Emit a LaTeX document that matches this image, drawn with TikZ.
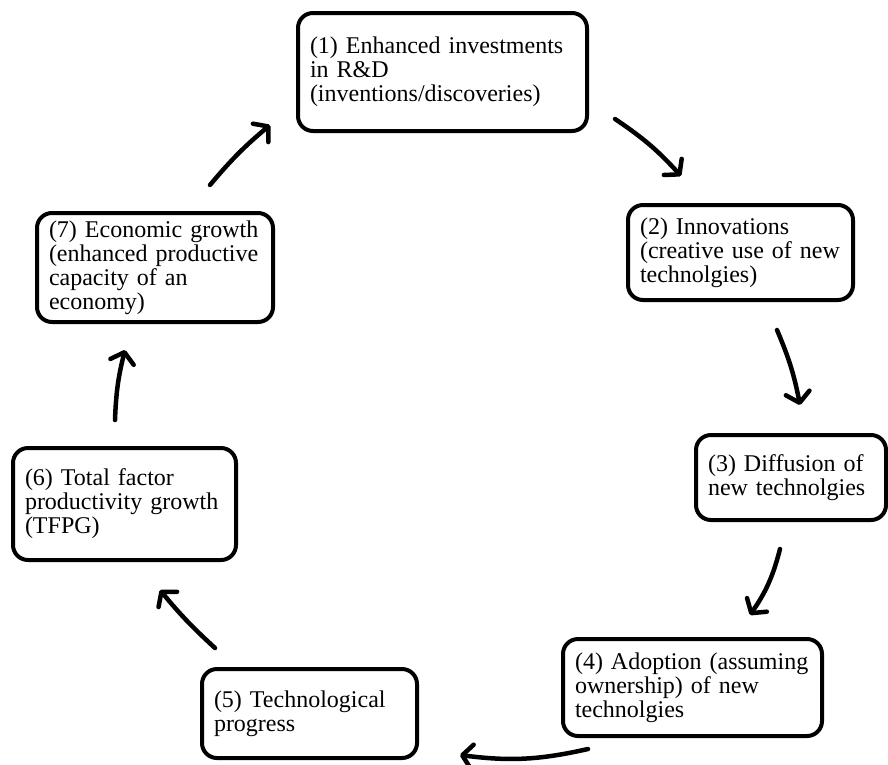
\documentclass[tikz,border=0pt]{standalone}
\usepackage{fontspec}
\setmainfont{Liberation Serif}
\usetikzlibrary{arrows.meta}

\begin{document}
\begin{tikzpicture}[
    x=1pt, y=-1pt,
    stage/.style={draw, line width=4pt, rounded corners=15pt, align=left, inner xsep=12pt, inner ysep=0pt,
        font=\fontsize{24}{24}\selectfont},
    arr/.style={-{Straight Barb[round, length=10pt, width=24pt]}, line width=4.5pt, line cap=round}
]
\useasboundingbox (0,0) rectangle (888,764);

\node[stage, text width=265pt, minimum height=118pt] (invest) at (442.5,72)
{(1) Enhanced investments\\in R\&D\\(inventions/discoveries)};
\node[stage, text width=201pt, minimum height=95pt] (innov) at (740.5,252.5)
{(2) Innovations\\(creative use of new\\technolgies)};
\node[stage, text width=166pt, minimum height=85pt] (diffusion) at (791,477.5)
{(3) Diffusion of\\new technolgies};
\node[stage, text width=235pt, minimum height=97pt] (adoption) at (692.5,687.5)
{(4) Adoption (assuming\\ownership) of new\\technolgies};
\node[stage, text width=191pt, minimum height=89pt] (progress) at (309.5,713.5)
{(5) Technological\\progress};
\node[stage, text width=199pt, minimum height=112pt] (tfpg) at (124.5,504)
{(6) Total factor\\productivity growth\\(TFPG)};
\node[stage, text width=212pt, minimum height=109pt] (growth) at (155,267.5)
{(7) Economic growth\\(enhanced productive\\capacity of an\\economy)};

\draw[arr] ([shift={(26,-14)}]invest.south east) to[bend left=7] ([shift={(55,-27)}]innov.north west);
\draw[arr] ([shift={(36.5,28)}]innov.south) to[bend left=6] ([shift={(9,-28)}]diffusion.north);
\draw[arr] ([shift={(-11,27)}]diffusion.south) to[bend left=10] ([shift={(57.5,-22)}]adoption.north);
\draw[arr] ([shift={(27,11)}]adoption.south west) to[bend left=10] ([shift={(41,-5)}]progress.south east);
\draw[arr] ([shift={(15,-19)}]progress.north west) to[bend left=4] ([shift={(35.5,28)}]tfpg.south);
\draw[arr] ([shift={(-9.5,-26)}]tfpg.north) to[bend left=6] ([shift={(-30,26)}]growth.south);
\draw[arr] ([shift={(55,-26)}]growth.north) to[bend left=5] ([shift={(-26,-8)}]invest.south west);

\end{tikzpicture}
\end{document}
